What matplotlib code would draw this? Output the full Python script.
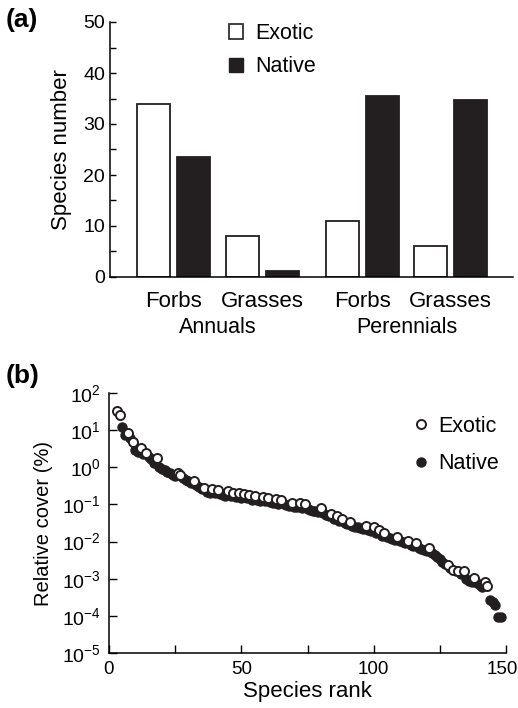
import matplotlib.pyplot as plt
import matplotlib.transforms as mtransforms
from matplotlib.patches import Patch
from matplotlib.lines import Line2D
from matplotlib.ticker import NullLocator
import numpy as np

plt.rcParams['font.family'] = ['Liberation Sans', 'DejaVu Sans']
plt.rcParams['mathtext.fontset'] = 'custom'
plt.rcParams['mathtext.rm'] = 'Liberation Sans'

INK = '#231f20'

# panel (a): species numbers
categories = ["Forbs", "Grasses", "Forbs", "Grasses"]
groups = ["Annuals", "Perennials"]
exotic_counts = [34, 8, 11, 6]
native_counts = [23.6, 1.2, 35.5, 34.7]

# panel (b): rank / relative cover, cover stored as log10(%)
exotic_rank = [3, 4, 7, 9, 12, 14, 18, 26, 27, 32, 36, 39, 41, 45, 47, 49, 51, 53,
               55, 58, 60, 63, 65, 69, 72, 74, 80, 84, 86, 88, 91, 97, 100, 102,
               104, 109, 113, 116, 121, 128, 130, 132, 134, 138, 142, 143]
exotic_logcover = [1.52, 1.41, 0.93, 0.69, 0.52, 0.39, 0.25, -0.16, -0.20, -0.38,
                   -0.56, -0.59, -0.61, -0.65, -0.68, -0.70, -0.72, -0.74, -0.77,
                   -0.79, -0.83, -0.86, -0.87, -0.95, -0.97, -1.00, -1.10, -1.25,
                   -1.32, -1.39, -1.46, -1.58, -1.60, -1.70, -1.76, -1.87, -1.98,
                   -2.04, -2.16, -2.63, -2.76, -2.78, -2.80, -2.98, -3.08, -3.20]
native_rank = [5, 6, 8, 10, 11, 13, 15, 16, 17, 19, 20, 21, 22, 23, 24, 25, 28, 29,
               30, 31, 33, 34, 35, 37, 38, 40, 42, 43, 44, 46, 48, 50, 52, 54, 56,
               57, 59, 61, 62, 64, 66, 67, 68, 70, 71, 73, 75, 76, 77, 78, 79, 81,
               82, 83, 85, 87, 89, 90, 92, 93, 94, 95, 96, 98, 99, 101, 103, 105,
               106, 107, 108, 110, 111, 112, 114, 115, 117, 118, 119, 120, 122, 123,
               124, 125, 126, 127, 129, 131, 133, 135, 136, 137, 139, 140, 141, 144,
               145, 146, 147, 148]
native_logcover = [1.08, 0.88, 0.78, 0.47, 0.42, 0.36, 0.29, 0.22, 0.12, 0.02, -0.05,
                   -0.08, -0.12, -0.16, -0.20, -0.24, -0.30, -0.33, -0.37, -0.42,
                   -0.48, -0.52, -0.58, -0.66, -0.68, -0.70, -0.72, -0.74, -0.76,
                   -0.78, -0.80, -0.82, -0.84, -0.87, -0.89, -0.90, -0.92, -0.94,
                   -0.96, -0.98, -1.00, -1.02, -1.04, -1.06, -1.08, -1.10, -1.12,
                   -1.15, -1.17, -1.19, -1.21, -1.24, -1.28, -1.32, -1.38, -1.44,
                   -1.50, -1.53, -1.58, -1.60, -1.62, -1.64, -1.66, -1.70, -1.72,
                   -1.78, -1.84, -1.88, -1.91, -1.93, -1.95, -1.99, -2.02, -2.05,
                   -2.09, -2.12, -2.16, -2.19, -2.22, -2.25, -2.30, -2.36, -2.42,
                   -2.48, -2.55, -2.60, -2.70, -2.80, -2.86, -3.02, -3.05, -3.08,
                   -3.12, -3.18, -3.22, -3.58, -3.62, -3.70, -4.02, -4.04]

W, H = 518, 708
fig = plt.figure(figsize=(W / 100, H / 100), dpi=100)


def px_axes(l, t, r, b):
    return fig.add_axes([l / W, 1 - b / H, (r - l) / W, (b - t) / H])


# ---------------- (a) ----------------
ax1 = px_axes(110, 22, 513, 277)
pos = np.array([0, 1, 2.14, 3.13])
off, bw = 0.226, 0.373
ax1.bar(pos - off, exotic_counts, bw, color='white', edgecolor=INK, lw=1.3)
ax1.bar(pos + off, native_counts, bw, color=INK, edgecolor=INK, lw=1.3)
ax1.set_xlim(-0.718, 3.836)
ax1.set_ylim(0, 50)
ax1.set_yticks(np.arange(0, 51, 10))
ax1.set_yticks(np.arange(5, 50, 10), minor=True)
ax1.set_xticks(pos)
ax1.set_xticklabels(categories)
ax1.tick_params(axis='x', length=0, labelsize=16, pad=10)
ax1.tick_params(axis='y', which='both', direction='in', length=4.5, width=1,
                labelsize=14, pad=3.5)
for s in ['top', 'right']:
    ax1.spines[s].set_visible(False)
for s in ['left', 'bottom']:
    ax1.spines[s].set_linewidth(1.1)
ax1.set_ylabel('Species number', fontsize=16, labelpad=8)
trans = mtransforms.blended_transform_factory(ax1.transData, ax1.transAxes)
for i, g in enumerate(groups):
    ax1.text(pos[2 * i:2 * i + 2].mean(), -0.2, g, transform=trans,
             ha='center', va='center', fontsize=15.5)
leg1 = ax1.legend([Patch(facecolor='white', edgecolor=INK, lw=1.2),
                   Patch(facecolor=INK, edgecolor=INK)], ['Exotic', 'Native'],
                  loc='upper left', bbox_to_anchor=(229 / W, 1 - 23 / H),
                  bbox_transform=fig.transFigure, frameon=False, fontsize=15.5,
                  handlelength=0.65, handleheight=0.65, handletextpad=0.55,
                  labelspacing=0.58, borderpad=0, borderaxespad=0)
fig.text(6 / W, 1 - 20 / H, '(a)', fontsize=19, fontweight='bold', va='center')

# ---------------- (b) ----------------
ax2 = px_axes(109, 393, 506, 653)
ax2.plot(native_rank, 10 ** np.array(native_logcover), 'o', ms=6.5, color=INK,
         mec=INK, zorder=3)
ax2.plot(exotic_rank, 10 ** np.array(exotic_logcover), 'o', ms=6.5, mfc='white',
         mec=INK, mew=1.4, zorder=4)
ax2.set_yscale('log')
ax2.set_ylim(1e-5, 1e2)
ax2.set_xlim(0, 150)
exps = list(range(-5, 3))
ax2.set_yticks([10.0 ** e for e in exps])
ax2.set_yticklabels([r'$\mathregular{10^{%d}}$' % e for e in exps])
ax2.yaxis.set_minor_locator(NullLocator())
ax2.set_xticks([0, 50, 100, 150])
ax2.set_xticks([25, 75, 125], minor=True)
ax2.tick_params(axis='both', which='both', direction='in', length=5.5, width=1)
ax2.tick_params(axis='y', labelsize=14, pad=6)
ax2.tick_params(axis='x', labelsize=13.5, pad=6)
# last rank label sits a little left of its tick in the original
lab = ax2.get_xticklabels()[-1]
lab.set_transform(lab.get_transform() +
                  mtransforms.ScaledTranslation(-4 / 100, 0, fig.dpi_scale_trans))
for s in ['top', 'right']:
    ax2.spines[s].set_visible(False)
for s in ['left', 'bottom']:
    ax2.spines[s].set_linewidth(1.1)
ax2.set_xlabel('Species rank', fontsize=16, labelpad=2)
ax2.set_ylabel('Relative cover (%)', fontsize=14.5, labelpad=6)
leg2 = ax2.legend([Line2D([], [], ls='none', marker='o', ms=6.5, mfc='white', mec=INK, mew=1.4),
                   Line2D([], [], ls='none', marker='o', ms=6.5, color=INK)],
                  ['Exotic', 'Native'], loc='upper left',
                  bbox_to_anchor=(412 / W, 1 - 416 / H),
                  bbox_transform=fig.transFigure, frameon=False, fontsize=15.5,
                  handlelength=0.8, handletextpad=0.4, labelspacing=0.75,
                  borderpad=0, borderaxespad=0)
fig.text(6 / W, 1 - 376 / H, '(b)', fontsize=19, fontweight='bold', va='center')

fig.savefig('out.png', dpi=100)
